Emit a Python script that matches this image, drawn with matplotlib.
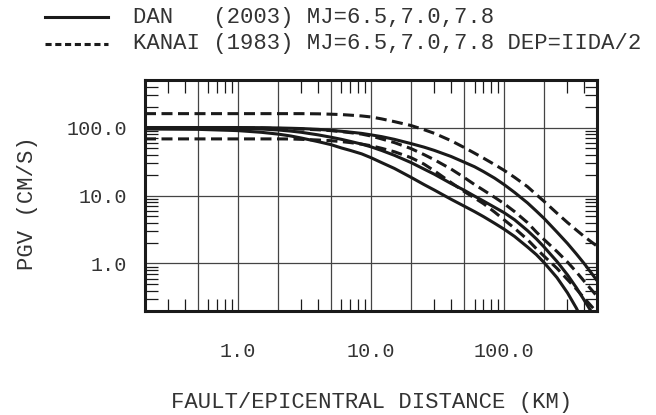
import numpy as np
import matplotlib
matplotlib.use("Agg")
import matplotlib.pyplot as plt
from matplotlib.lines import Line2D
from matplotlib.ticker import FixedLocator, FixedFormatter, NullFormatter

plt.rcParams['font.family'] = ['Liberation Mono', 'DejaVu Sans Mono']

# distance (km)
dist = [0.2, 0.5, 1, 1.5, 2, 2.5, 3, 4, 5, 6, 7, 8.5, 10, 12, 15, 20, 25, 30, 40, 50,
        60, 70, 85, 100, 120, 150, 175, 200, 250, 300, 350, 400, 450, 500]

# DAN (2003), MJ = 6.5, 7.0, 7.8
dan_65 = [95, 94, 90, 85, 80, 75, 70, 62, 56, 50, 46, 41, 36, 30.5, 25, 18.5, 14.5, 12, 8.8, 7.0,
          5.8, 4.9, 3.9, 3.2, 2.5, 1.75, 1.35, 1.03, 0.62, 0.37, 0.22, 0.13, 0.08, 0.05]
dan_70 = [98, 98, 97, 95, 92, 88.5, 85, 78, 72, 67, 62.5, 57, 52, 46, 39, 30.5, 24.5, 20.5, 15, 12,
          9.8, 8.3, 6.7, 5.6, 4.4, 3.05, 2.3, 1.75, 1.07, 0.68, 0.44, 0.29, 0.2, 0.14]
dan_78 = [100, 100, 100, 99.5, 98.5, 97.5, 96.5, 94, 91, 88, 85.5, 82, 78, 73.5, 67, 58, 51.5, 46, 37.5, 31,
          26.5, 22.5, 18, 14.5, 11.1, 7.8, 5.9, 4.6, 2.9, 1.97, 1.38, 1.0, 0.74, 0.56]

# KANAI (1983), MJ = 6.5, 7.0, 7.8, DEP = IIDA/2
kanai_65 = [68, 68, 68, 68, 68, 67.8, 67, 65.5, 64, 62, 60, 57, 54, 49.5, 44, 36, 29, 23, 15.5, 11.5,
            9.2, 7.6, 5.7, 4.4, 3.3, 2.25, 1.65, 1.28, 0.85, 0.58, 0.42, 0.31, 0.24, 0.19]
kanai_70 = [98, 98, 98, 98, 97, 96, 95, 92.5, 90, 87, 84, 80, 75, 68, 60, 49, 40, 33.5, 24.5, 18.5,
            14.5, 12, 9.4, 7.6, 5.8, 4.0, 2.9, 2.25, 1.5, 1.05, 0.75, 0.55, 0.42, 0.33]
kanai_78 = [160, 160, 160, 160, 160, 160, 160, 159, 157, 155, 152, 148, 143, 134, 122, 107, 93, 82, 64, 51,
            42, 35.5, 28.5, 23.5, 18.5, 13.5, 10.3, 8.2, 5.5, 4.0, 3.1, 2.5, 2.1, 1.8]

x_grid = [0.5, 1, 2, 5, 10, 20, 50, 100, 200]
x_labels = ['', '1.0', '', '', '10.0', '', '', '100.0', '']
x_minor = [m * d for d in [0.1, 1, 10, 100] for m in [3, 4, 6, 7, 8, 9] if 0.2 < m * d < 500]
y_major = [1, 10, 100]
y_labels = ['1.0', '10.0', '100.0']
y_minor = [m * d for d in [0.1, 1, 10, 100] for m in range(2, 10) if 0.2 <= m * d <= 500]

fig = plt.figure(figsize=(6.56, 4.15), dpi=100)
ax = fig.add_axes([145 / 656, 1 - 311 / 415, 452 / 656, 231 / 415])

ink = '#1a1a1a'
for ys in [dan_65, dan_70, dan_78]:
    ax.plot(dist, ys, color=ink, lw=2.2, solid_capstyle='butt', solid_joinstyle='round')
for ys in [kanai_65, kanai_70, kanai_78]:
    ax.plot(dist, ys, color=ink, lw=2.2, dashes=(3.6, 1.8))

ax.set_xscale('log')
ax.set_yscale('log')
ax.set_xlim(0.2, 500)
ax.set_ylim(0.2, 500)

ax.xaxis.set_major_locator(FixedLocator(x_grid))
ax.xaxis.set_major_formatter(FixedFormatter(x_labels))
ax.xaxis.set_minor_locator(FixedLocator(x_minor))
ax.xaxis.set_minor_formatter(NullFormatter())
ax.yaxis.set_major_locator(FixedLocator(y_major))
ax.yaxis.set_major_formatter(FixedFormatter(y_labels))
ax.yaxis.set_minor_locator(FixedLocator(y_minor))
ax.yaxis.set_minor_formatter(NullFormatter())

ax.grid(True, which='major', color='#444444', lw=0.9)
ax.tick_params(which='both', direction='in', top=True, right=True, color=ink, width=0.9)
ax.tick_params(which='major', length=0, labelsize=14.5, labelcolor='#333333')
ax.tick_params(axis='x', which='major', pad=22)
ax.tick_params(axis='y', which='major', pad=13)
ax.tick_params(which='minor', length=9)
for s in ax.spines.values():
    s.set_linewidth(2.2)
    s.set_color(ink)

fig.text(372 / 656, 1 - 402 / 415, 'FAULT/EPICENTRAL DISTANCE (KM)', ha='center', va='center',
         fontsize=16, color='#333333')
fig.text(27 / 656, 1 - 203 / 415, 'PGV (CM/S)', ha='center', va='center', rotation=90,
         fontsize=16, color='#333333')

# legend
fig.add_artist(Line2D([45 / 656, 108 / 656], [1 - 17 / 415, 1 - 17 / 415], color=ink, lw=2.2))
fig.add_artist(Line2D([45 / 656, 108 / 656], [1 - 44 / 415, 1 - 44 / 415], color=ink, lw=2.2,
                      dashes=(2.0, 1.2)))
fig.text(133 / 656, 1 - 17 / 415, 'DAN   (2003) MJ=6.5,7.0,7.8', ha='left', va='center',
         fontsize=16, color='#333333')
fig.text(133 / 656, 1 - 44 / 415, 'KANAI (1983) MJ=6.5,7.0,7.8 DEP=IIDA/2', ha='left', va='center',
         fontsize=16, color='#333333')

fig.savefig('out.png', dpi=100)
